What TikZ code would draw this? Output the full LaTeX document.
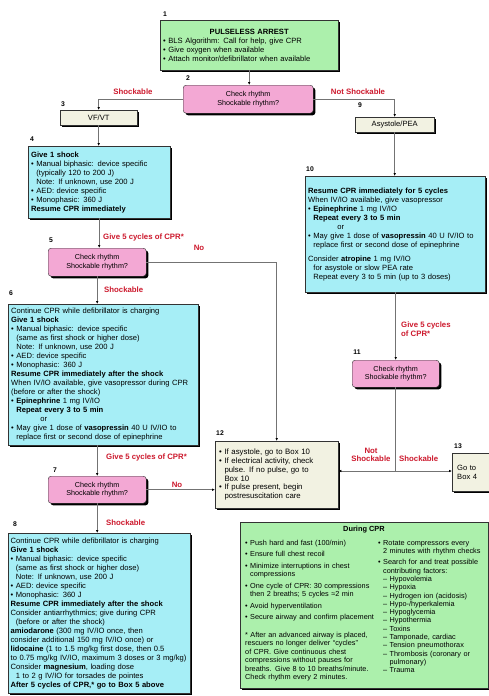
\documentclass[tikz,border=0pt]{standalone}
\usepackage{fontspec}
\setmainfont{Liberation Sans}
\usetikzlibrary{shadows,arrows.meta}
\definecolor{boxgreen}{RGB}{172,240,172}
\definecolor{boxpink}{RGB}{243,168,212}
\definecolor{boxcyan}{RGB}{166,238,246}
\definecolor{boxbeige}{RGB}{242,242,226}
\definecolor{lblred}{RGB}{205,25,45}
\definecolor{linegray}{RGB}{115,115,115}
\newcommand\hb{\hphantom{•\ }}
\newcommand\hd{\hphantom{– }}
\tikzset{
 base/.style={draw=black!80, line width=0.4pt, anchor=north west, inner sep=3pt,
   font=\fontsize{7.6}{9}\selectfont,
   drop shadow={shadow xshift=2.2pt, shadow yshift=-2.2pt, fill=black, opacity=1}},
 gbox/.style={base, fill=boxgreen, align=left},
 cbox/.style={base, fill=boxcyan, align=left},
 pbox/.style={base, fill=boxpink, rounded corners=3pt, align=center, font=\fontsize{7.2}{8.6}\selectfont},
 ybox/.style={base, fill=boxbeige, align=center},
 num/.style={font=\fontsize{6.8}{7}\selectfont\bfseries, inner sep=0pt},
 lbl/.style={font=\fontsize{7.8}{8.6}\selectfont\bfseries, text=lblred, inner sep=0pt, align=center},
 coltext/.style={anchor=north west, inner sep=0pt, align=left, font=\fontsize{7.3}{8.5}\selectfont},
 conn/.style={draw=linegray, line width=0.8pt},
 arr/.style={conn, -{Latex[length=3pt,width=2.6pt,color=black]}},
}
\begin{document}
\begin{tikzpicture}[x=1pt,y=-1pt]
\useasboundingbox[fill=white] (0,0) rectangle (489,696);
\clip (0,0) rectangle (489,696);

% ---------- boxes ----------
\node[gbox, minimum height=50pt, text width=172pt, font=\fontsize{7.6}{9}\selectfont] (b1) at (160,20)
 {\makebox[172pt][c]{\bfseries PULSELESS ARREST}\\
  • BLS Algorithm: Call for help, give CPR\\
  • Give oxygen when available\\
  • Attach monitor/defibrillator when available};

\node[pbox, minimum width=130pt, minimum height=28pt] (b2) at (183,85)
 {Check rhythm\\Shockable rhythm?};

\node[ybox, minimum width=77pt, minimum height=15pt, inner sep=2pt] (b3) at (60,110) {VF/VT};
\node[ybox, minimum width=79pt, minimum height=15pt, inner sep=2pt] (b9) at (355,117) {Asystole/PEA};

\node[cbox, minimum height=72pt, text width=136pt] (b4) at (28,146)
 {\textbf{Give 1 shock}\\
  • Manual biphasic: device specific\\
  \hb(typically 120 to 200 J)\\
  \hb Note: If unknown, use 200 J\\
  • AED: device specific\\
  • Monophasic: 360 J\\
  \textbf{Resume CPR immediately}};

\node[pbox, minimum width=98pt, minimum height=28pt] (b5) at (48,248)
 {Check rhythm\\Shockable rhythm?};

\node[cbox, minimum height=141pt, text width=184pt] (b6) at (8,304)
 {Continue CPR while defibrillator is charging\\
  \textbf{Give 1 shock}\\
  • Manual biphasic: device specific\\
  \hb(same as first shock or higher dose)\\
  \hb Note: If unknown, use 200 J\\
  • AED: device specific\\
  • Monophasic: 360 J\\
  \textbf{Resume CPR immediately after the shock}\\
  When IV/IO available, give vasopressor during CPR\\
  (before or after the shock)\\
  • \textbf{Epinephrine} 1 mg IV/IO\\
  \hb\textbf{Repeat every 3 to 5 min}\\
  \hb\hspace{24pt}or\\
  • May give 1 dose of \textbf{vasopressin} 40 U IV/IO to\\
  \hb replace first or second dose of epinephrine};

\node[pbox, minimum width=98pt, minimum height=27pt] (b7) at (48,476)
 {Check rhythm\\Shockable rhythm?};

\node[cbox, minimum height=160pt, inner xsep=2.5pt, text width=177pt] (b8) at (8,533)
 {Continue CPR while defibrillator is charging\\
  \textbf{Give 1 shock}\\
  • Manual biphasic: device specific\\
  \hb(same as first shock or higher dose)\\
  \hb Note: If unknown, use 200 J\\
  • AED: device specific\\
  • Monophasic: 360 J\\
  \textbf{Resume CPR immediately after the shock}\\
  Consider antiarrhythmics; give during CPR\\
  \hb(before or after the shock)\\
  \textbf{amiodarone} (300 mg IV/IO once, then\\
  consider additional 150 mg IV/IO once) or\\
  \textbf{lidocaine} (1 to 1.5 mg/kg first dose, then 0.5\\
  to 0.75 mg/kg IV/IO, maximum 3 doses or 3 mg/kg)\\
  Consider \textbf{magnesium}, loading dose\\
  \hb 1 to 2 g IV/IO for torsades de pointes\\
  \textbf{After 5 cycles of CPR,* go to Box 5 above}};

\node[cbox, minimum height=116pt, text width=174pt] (b10) at (305,176)
 {\textbf{Resume CPR immediately for 5 cycles}\\
  When IV/IO available, give vasopressor\\
  • \textbf{Epinephrine} 1 mg IV/IO\\
  \hb\textbf{Repeat every 3 to 5 min}\\
  \hb\hspace{24pt}or\\
  • May give 1 dose of \textbf{vasopressin} 40 U IV/IO to\\
  \hb replace first or second dose of epinephrine\\[5pt]
  Consider \textbf{atropine} 1 mg IV/IO\\
  \hb for asystole or slow PEA rate\\
  \hb Repeat every 3 to 5 min (up to 3 doses)};

\node[pbox, minimum width=87pt, minimum height=27pt] (b11) at (352,360)
 {Check rhythm\\Shockable rhythm?};

\node[base, fill=boxbeige, align=left, inner sep=4pt, minimum height=67pt, text width=115pt,
      font=\fontsize{7.8}{8.7}\selectfont] (b12) at (215,441)
 {• If asystole, go to Box 10\\
  • If electrical activity, check\\
  \hb pulse. If no pulse, go to\\
  \hb Box 10\\
  • If pulse present, begin\\
  \hb postresuscitation care};

\node[base, fill=boxbeige, align=left, inner sep=5pt, minimum height=38pt, text width=38pt] (b13) at (452,453)
 {Go to\\Box 4};

% bottom green box
\node[base, fill=boxgreen, minimum width=248pt, minimum height=166pt] (bcpr) at (240,522) {};
\node[inner sep=0pt, font=\fontsize{7.4}{8}\selectfont\bfseries] (tcpr) at (364,530) {During CPR};
\node[coltext, text width=131pt] (lcpr) at (245,540)
 {• Push hard and fast (100/min)\\[3pt]
  • Ensure full chest recoil\\[3pt]
  • Minimize interruptions in chest\\
  \hb compressions\\[3pt]
  • One cycle of CPR: 30 compressions\\
  \hb then 2 breaths; 5 cycles ≈2 min\\[3pt]
  • Avoid hyperventilation\\[3pt]
  • Secure airway and confirm placement\\[9pt]
  * After an advanced airway is placed,\\
  rescuers no longer deliver “cycles”\\
  of CPR. Give continuous chest\\
  compressions without pauses for\\
  breaths. Give 8 to 10 breaths/minute.\\
  Check rhythm every 2 minutes.};
\node[coltext, text width=109pt, font=\fontsize{7.3}{8.3}\selectfont] (rcpr) at (378,540)
 {• Rotate compressors every\\
  \hb 2 minutes with rhythm checks\\[3pt]
  • Search for and treat possible\\
  \hb contributing factors:\\
  \hb – Hypovolemia\\
  \hb – Hypoxia\\
  \hb – Hydrogen ion (acidosis)\\
  \hb – Hypo-/hyperkalemia\\
  \hb – Hypoglycemia\\
  \hb – Hypothermia\\
  \hb – Toxins\\
  \hb – Tamponade, cardiac\\
  \hb – Tension pneumothorax\\
  \hb – Thrombosis (coronary or\\
  \hb\hd pulmonary)\\
  \hb – Trauma};

% ---------- box numbers ----------
\node[num] (n1) at (165,14) {1};
\node[num] (n2) at (188,78) {2};
\node[num] (n3) at (63,104) {3};
\node[num] (n4) at (32,139) {4};
\node[num] (n5) at (51,240) {5};
\node[num] (n6) at (11,293) {6};
\node[num] (n7) at (55,470) {7};
\node[num] (n8) at (15,524) {8};
\node[num] (n9) at (360,105) {9};
\node[num] (n10) at (310,169) {10};
\node[num] (n11) at (357,352) {11};
\node[num] (n12) at (220,433) {12};
\node[num] (n13) at (458,446) {13};

% ---------- connectors ----------
\draw[arr] (b1.south) -- (b1.south |- b2.north);
\draw[arr] (b2.west) -| (b3.north);
\draw[arr] (b2.east) -| (b9.north);
\draw[arr] (b3.south) -- (b3.south |- b4.north);
\draw[arr] (b4.south) -- (b4.south |- b5.north);
\draw[arr] (b5.south) -- (b5.south |- b6.north);
\draw[arr] (b5.south |- b6.south) -- (b7.north);
\draw[arr] (b7.south) -- (b7.south |- b8.north);
\draw[arr] (b5.east) -| (b12.north);
\draw[arr] (b7.east) -- (b7.east -| b12.west);
\draw[arr] (b9.south) -- (b9.south |- b10.north);
\draw[arr] (b10.south -| b11.north) -- (b11.north);
\coordinate (j11) at (b11.south |- 0,471);
\draw[conn] (b11.south) -- (j11);
\draw[arr] (j11) -- (j11 -| b12.east);
\draw[arr] (j11) -- (j11 -| b13.west);

% ---------- connector labels ----------
\node[lbl] (l1) at (133,92) {Shockable};
\node[lbl] (l2) at (358,92) {Not Shockable};
\node[lbl, anchor=west] (l3) at (103,237) {Give 5 cycles of CPR*};
\node[lbl] (l4) at (199,248) {No};
\node[lbl, anchor=west] (l5) at (104,290) {Shockable};
\node[lbl, anchor=west] (l6) at (106,457) {Give 5 cycles of CPR*};
\node[lbl] (l7) at (177,485) {No};
\node[lbl, anchor=west] (l8) at (106,523) {Shockable};
\node[lbl, anchor=west, align=left] (l9) at (401,329) {Give 5 cycles\\of CPR*};
\node[lbl] (l10) at (371,455) {Not\\Shockable};
\node[lbl, anchor=west] (l11) at (399,459) {Shockable};
\end{tikzpicture}
\end{document}
